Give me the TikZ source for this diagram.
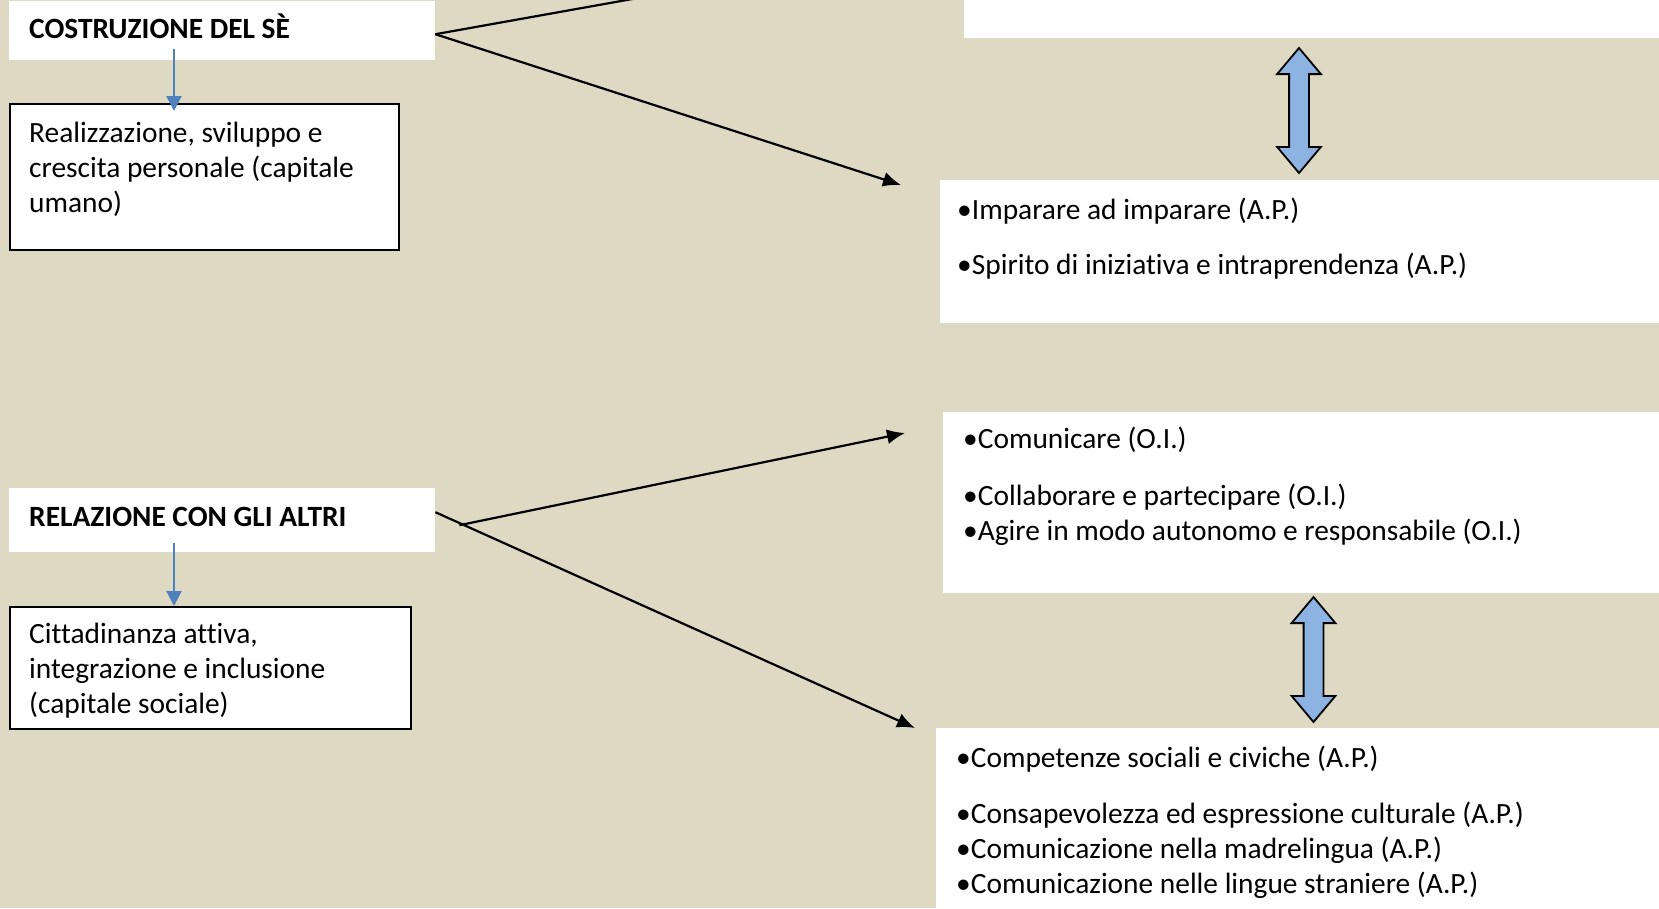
\documentclass[tikz,border=0pt]{standalone}
\usepackage{fontspec}
\setmainfont{Carlito}[Ligatures=NoCommon]
\usetikzlibrary{shapes.arrows, arrows.meta, positioning}
\definecolor{page_tan}{HTML}{DDD9C3}
\definecolor{arrow_blue}{HTML}{4F81BD}
\definecolor{shaft_blue}{HTML}{8DB3E2}
\tikzset{
  body_font/.style = {font=\fontsize{29.4}{35}\selectfont},
  head_font/.style = {font=\fontsize{29.4}{35}\selectfont\bfseries},
  page_fill/.style = {fill=page_tan}
}
\tikzset{
  card/.style = {fill=white, inner sep=0, anchor=north west},
  framed_card/.style = {card, draw=black, line width=2pt},
  head/.style = {head_font, inner sep=0, anchor=base west},
  txt/.style = {body_font, inner sep=0, align=left, anchor=base west},
  link/.style = {draw=black, line width=2.2pt, -{Latex[length=18pt, width=15pt]}},
  plain_link/.style = {draw=black, line width=2.2pt},
  down_link/.style = {draw=arrow_blue, line width=2.2pt, -{Triangle[length=15pt, width=15pt]}},
  twin_arrow/.style = {double arrow, rotate=90, draw=black, fill=shaft_blue, line width=1.8pt,
    inner sep=9pt, minimum height=125pt, double arrow head extend=12pt, double arrow tip angle=80}
}

\begin{document}
\begin{tikzpicture}[x=1pt, y=-1pt]{
        \clip (0,0) rectangle (1659,908);
        \fill[page_fill] (0,0) rectangle (1659,908);

        % Left column (text nodes sit on the baseline of their last line)
        \node[card, minimum width=426pt, minimum height=59pt] at (9,1) (self) {};
        \node[head, xshift=20pt, yshift=-37pt] at (self.north west) (self_t) {COSTRUZIONE DEL SÈ};
        \node[framed_card, minimum width=389pt, minimum height=146pt] at (9,103) (human) {};
        \node[txt, xshift=20pt, yshift=-109pt] at (human.north west) (human_t) {
            Realizzazione, sviluppo e\\
            crescita personale (capitale\\
            umano)};

        \node[card, minimum width=426pt, minimum height=64pt] at (9,488) (others) {};
        \node[head, xshift=20pt, yshift=-38pt] at (others.north west) (others_t) {RELAZIONE CON GLI ALTRI};
        \node[framed_card, minimum width=401pt, minimum height=122pt] at (9,606) (social) {};
        \node[txt, xshift=20pt, yshift=-107pt] at (social.north west) (social_t) {
            Cittadinanza attiva,\\
            integrazione e inclusione\\
            (capitale sociale)};

        % Right column
        \node[card, anchor=south west, minimum width=720pt, minimum height=80pt] at (964,38) (upper) {};
        \node[card, minimum width=740pt, minimum height=143pt] at (940,180) (learn) {};
        \node[txt, xshift=17pt, yshift=-94pt] at (learn.north west) (learn_t) {
            •Imparare ad imparare (A.P.)\\[20pt]
            •Spirito di iniziativa e intraprendenza (A.P.)};
        \node[card, minimum width=740pt, minimum height=181pt] at (943,412) (talk) {};
        \node[txt, xshift=20pt, yshift=-128pt] at (talk.north west) (talk_t) {
            •Comunicare (O.I.)\\[22pt]
            •Collaborare e partecipare (O.I.)\\
            •Agire in modo autonomo e responsabile (O.I.)};
        \node[card, minimum width=740pt, minimum height=200pt] at (936,728) (civic) {};
        \node[txt, xshift=20pt, yshift=-165pt] at (civic.north west) (civic_t) {
            •Competenze sociali e civiche (A.P.)\\[21pt]
            •Consapevolezza ed espressione culturale (A.P.)\\
            •Comunicazione nella madrelingua (A.P.)\\
            •Comunicazione nelle lingue straniere (A.P.)};

        % Double arrows
        \node[twin_arrow] at (1299,110.5) (tie_1) {};
        \node[twin_arrow] at (1313.5,659.5) (tie_2) {};

        % Arrows and lines
        \coordinate (off_top) at (817,-34);
        \draw[down_link] ([xshift=165pt, yshift=-48pt]self.north west) -- ([xshift=165pt, yshift=-8pt]human.north west);
        \draw[down_link] ([xshift=165pt, yshift=-55pt]others.north west) -- ([xshift=165pt]social.north west);

        \draw[plain_link] ([yshift=-3.5pt]self.east) -- (off_top);
        \draw[link] ([yshift=-3.5pt]self.east) -- ([xshift=-39pt, yshift=-5pt]learn.north west);
        \draw[link] ([xshift=24pt, yshift=-5pt]others.east) -- ([xshift=-38pt, yshift=-21pt]talk.north west);
        \draw[link] ([yshift=8pt]others.east) -- ([xshift=-21pt]civic.north west);
        }
    \end{tikzpicture}
\end{document}
